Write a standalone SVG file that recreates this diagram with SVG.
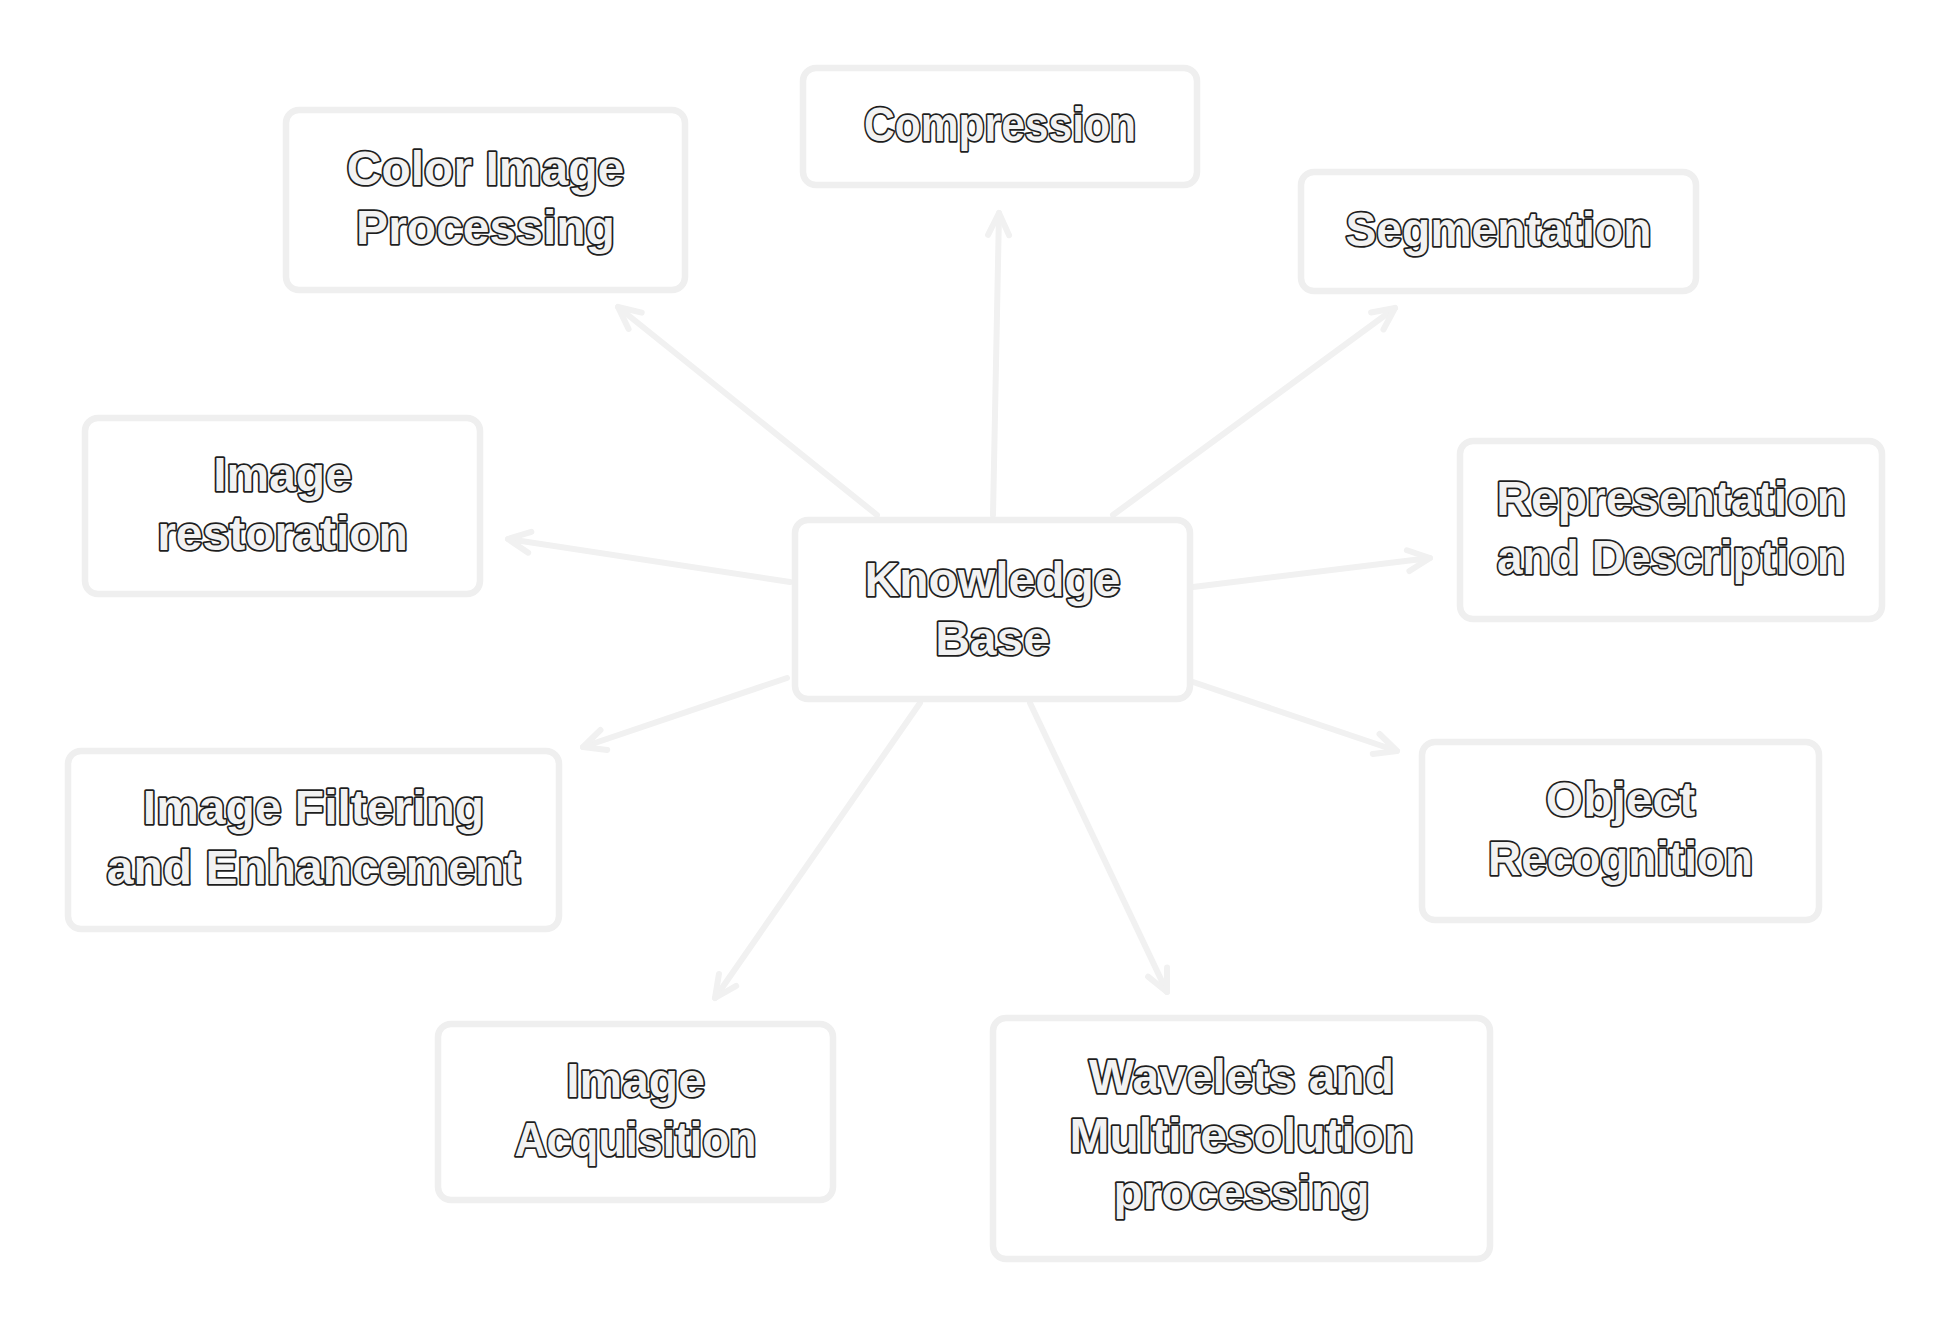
<svg xmlns="http://www.w3.org/2000/svg" width="1947" height="1322" viewBox="0 0 1947 1322">
<style>
.box{fill:#ffffff;stroke:#efefef;stroke-width:6.5}
.lbl{font-family:"Liberation Sans",Arial,sans-serif;font-weight:bold;font-size:48px;fill:#f2f2f2;stroke:#1e1e1e;stroke-width:3.5;stroke-linejoin:round;paint-order:stroke fill;text-anchor:middle}
.edge{fill:none;stroke:#f1f1f1;stroke-width:6;stroke-linecap:round;marker-end:url(#ah)}
</style>
<defs>
<marker id="ah" markerUnits="userSpaceOnUse" orient="auto" viewBox="-30 -20 40 40" refX="0" refY="0" markerWidth="40" markerHeight="40" overflow="visible">
<path d="M-22,-10.5 L0,0 L-22,10.5" fill="none" stroke="#f1f1f1" stroke-width="6" stroke-linecap="round" stroke-linejoin="round"/>
</marker>
</defs>
<rect width="1947" height="1322" fill="#ffffff"/>
<g id="connectors">
<line class="edge" x1="877" y1="515" x2="618" y2="307"/>
<line class="edge" x1="993" y1="515" x2="999" y2="213"/>
<line class="edge" x1="1113" y1="515" x2="1395" y2="308"/>
<line class="edge" x1="790" y1="582" x2="508" y2="539"/>
<line class="edge" x1="1193" y1="587" x2="1430" y2="558"/>
<line class="edge" x1="787" y1="678" x2="583" y2="747"/>
<line class="edge" x1="1193" y1="682" x2="1397" y2="751"/>
<line class="edge" x1="920" y1="703" x2="715" y2="998"/>
<line class="edge" x1="1030" y1="703" x2="1167" y2="992"/>
</g>
<g id="compression">
<rect class="box" x="803" y="68" width="394" height="117" rx="13"/>
<text class="lbl" x="1000" y="141" textLength="272" lengthAdjust="spacingAndGlyphs">Compression</text>
</g>
<g id="color-image-processing">
<rect class="box" x="286" y="110" width="399" height="180" rx="13"/>
<text class="lbl" x="485.5" y="185">Color Image</text>
<text class="lbl" x="485.5" y="244">Processing</text>
</g>
<g id="segmentation">
<rect class="box" x="1301" y="172" width="395" height="119" rx="13"/>
<text class="lbl" x="1498.5" y="246" textLength="306" lengthAdjust="spacingAndGlyphs">Segmentation</text>
</g>
<g id="image-restoration">
<rect class="box" x="85" y="418" width="395" height="176" rx="13"/>
<text class="lbl" x="282.5" y="491">Image</text>
<text class="lbl" x="282.5" y="550">restoration</text>
</g>
<g id="representation">
<rect class="box" x="1460" y="441" width="422" height="178" rx="13"/>
<text class="lbl" x="1671" y="515">Representation</text>
<text class="lbl" x="1671" y="574" textLength="348" lengthAdjust="spacingAndGlyphs">and Description</text>
</g>
<g id="knowledge-base">
<rect class="box" x="795" y="520" width="395" height="179" rx="13"/>
<text class="lbl" x="992.5" y="596">Knowledge</text>
<text class="lbl" x="992.5" y="655">Base</text>
</g>
<g id="image-filtering">
<rect class="box" x="68" y="751" width="491" height="178" rx="13"/>
<text class="lbl" x="313.5" y="824">Image Filtering</text>
<text class="lbl" x="313.5" y="884">and Enhancement</text>
</g>
<g id="object-recognition">
<rect class="box" x="1422" y="742" width="397" height="178" rx="13"/>
<text class="lbl" x="1620.5" y="816">Object</text>
<text class="lbl" x="1620.5" y="875" textLength="265" lengthAdjust="spacingAndGlyphs">Recognition</text>
</g>
<g id="image-acquisition">
<rect class="box" x="438" y="1024" width="395" height="176" rx="13"/>
<text class="lbl" x="635.5" y="1097">Image</text>
<text class="lbl" x="635.5" y="1156" textLength="242" lengthAdjust="spacingAndGlyphs">Acquisition</text>
</g>
<g id="wavelets">
<rect class="box" x="993" y="1018" width="497" height="241" rx="13"/>
<text class="lbl" x="1241.5" y="1093">Wavelets and</text>
<text class="lbl" x="1241.5" y="1152">Multiresolution</text>
<text class="lbl" x="1241.5" y="1209">processing</text>
</g>
</svg>
